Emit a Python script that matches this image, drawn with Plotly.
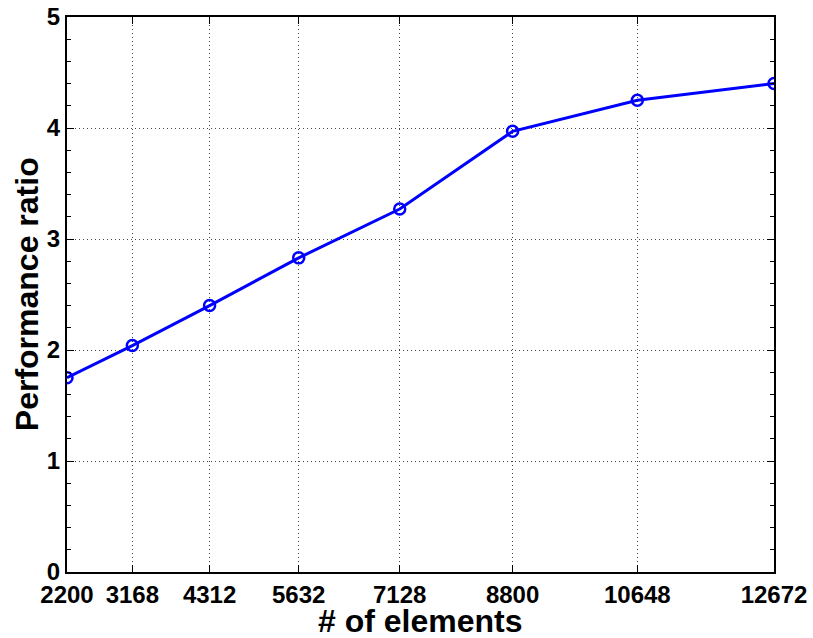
import plotly.graph_objects as go

elements = [2200, 3168, 4312, 5632, 7128, 8800, 10648, 12672]
perf_ratio = [1.75, 2.04, 2.40, 2.83, 3.27, 3.97, 4.25, 4.40]
x_tick_labels = [str(v) for v in elements]
y_ticks = [0, 1, 2, 3, 4, 5]

fig = go.Figure()
fig.add_trace(go.Scatter(
    x=elements, y=perf_ratio, mode="lines+markers",
    line=dict(color="#0000FF", width=3),
    marker=dict(symbol="circle-open", size=11, color="#0000FF", line=dict(width=2.5, color="#0000FF")),
    showlegend=False,
))

font_family = "Liberation Sans, Arial, sans-serif"
grid_dash = "1px,3px"
fig.update_layout(
    width=813, height=638,
    margin=dict(l=67, r=39, t=17, b=66),
    paper_bgcolor="white", plot_bgcolor="white",
    font=dict(family=font_family, color="black"),
    xaxis=dict(
        range=[2200, 12672], tickvals=elements, ticktext=[f"<b>{t}</b>" for t in x_tick_labels],
        tickfont=dict(size=24, family=font_family, color="black"),
        showline=True, linecolor="black", linewidth=2, mirror="ticks",
        ticks="inside", ticklen=7, tickcolor="black", tickwidth=1,
        showgrid=True, gridcolor="#444444", griddash=grid_dash, gridwidth=1,
        zeroline=False, automargin=False,
    ),
    yaxis=dict(
        range=[0, 5], tickvals=y_ticks, ticktext=[f"<b>{t}</b>" for t in y_ticks],
        tickfont=dict(size=24, family=font_family, color="black"),
        showline=True, linecolor="black", linewidth=2, mirror="ticks",
        ticks="inside", ticklen=7, tickcolor="black", tickwidth=1,
        minor=dict(dtick=0.2, ticks="inside", ticklen=4, tickcolor="black", showgrid=False),
        showgrid=True, gridcolor="#444444", griddash=grid_dash, gridwidth=1,
        zeroline=False, automargin=False,
    ),
    annotations=[
        dict(text="<b># of elements</b>", xref="paper", yref="paper", x=0.5, y=-0.125,
             xanchor="center", yanchor="bottom", showarrow=False,
             font=dict(size=32, family=font_family, color="black")),
        dict(text="<b>Performance ratio</b>", xref="paper", yref="paper", x=-0.057, y=0.5,
             xanchor="center", yanchor="middle", showarrow=False, textangle=-90,
             font=dict(size=32, family=font_family, color="black")),
    ],
)

fig.write_html("out.html", config={"displayModeBar": False},
               post_script="document.body.style.margin='0';")
